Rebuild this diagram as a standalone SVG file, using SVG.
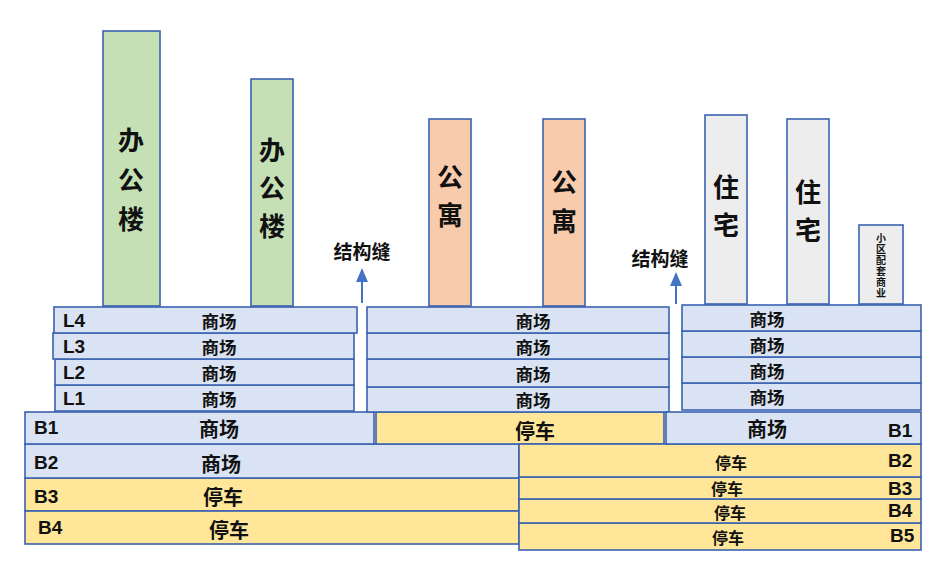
<svg xmlns="http://www.w3.org/2000/svg" width="946" height="584" viewBox="0 0 946 584">
<defs>
<style>
.b{fill:#dae3f3;stroke:#3a62b0;stroke-width:1.6}
.y{fill:#ffe699;stroke:#3a62b0;stroke-width:1.6}
.g{fill:#c5e0b4;stroke:#3a62b0;stroke-width:1.6}
.o{fill:#f8cbad;stroke:#3a62b0;stroke-width:1.6}
.w{fill:#ededed;stroke:#3a62b0;stroke-width:1.6}
text{font-family:"Noto Sans CJK SC","Liberation Sans",sans-serif;font-weight:700;fill:#111;dominant-baseline:central}
.c{font-size:20px;text-anchor:middle}
.m{font-size:17.5px;text-anchor:middle}
.p{font-size:16px;text-anchor:middle}
.l{font-family:"Liberation Sans","Noto Sans CJK SC",sans-serif;font-size:19px}
.t{font-size:26px;text-anchor:middle}
.s{font-size:10px;writing-mode:vertical-rl;letter-spacing:1px;text-anchor:start}
.j{font-size:19px;text-anchor:middle}
.arr{stroke:#4472c4;stroke-width:2;fill:none}
.ah{fill:#4472c4}
</style>
</defs>
<rect width="946" height="584" fill="#ffffff"/>

<g id="office1"><rect class="g" x="103" y="31" width="57" height="275"/><text class="t" x="131" y="138">办</text><text class="t" x="131" y="178">公</text><text class="t" x="131" y="217">楼</text></g>
<g id="office2"><rect class="g" x="251" y="79" width="42" height="227"/><text class="t" x="272" y="148">办</text><text class="t" x="272" y="186">公</text><text class="t" x="272" y="224">楼</text></g>
<g id="apt1"><rect class="o" x="429" y="119" width="42" height="187"/><text class="t" x="450" y="175">公</text><text class="t" x="450" y="213">寓</text></g>
<g id="apt2"><rect class="o" x="543" y="119" width="42" height="187"/><text class="t" x="564" y="180">公</text><text class="t" x="564" y="219">寓</text></g>
<g id="res1"><rect class="w" x="705" y="115" width="42" height="189"/><text class="t" x="726" y="185">住</text><text class="t" x="726" y="223">宅</text></g>
<g id="res2"><rect class="w" x="787" y="119" width="42" height="185"/><text class="t" x="808" y="190">住</text><text class="t" x="808" y="228">宅</text></g>
<g id="shop"><rect class="w" x="859" y="225" width="44" height="79"/>
<text class="s" x="881" y="233">小区配套商业</text></g>

<g id="left-podium">
<rect class="y" x="25" y="478" width="494" height="33"/>
<rect class="y" x="25" y="511" width="494" height="33"/>
<rect class="b" x="25" y="444" width="494" height="34"/>
<rect class="b" x="25" y="412" width="349" height="32"/>
<rect class="b" x="55" y="385" width="299" height="26"/>
<rect class="b" x="55" y="359" width="299" height="26"/>
<rect class="b" x="53" y="333" width="301" height="26"/>
<rect class="b" x="54" y="307" width="303" height="26"/>
<text class="l" x="63" y="320">L4</text><text class="m" x="219" y="320">商场</text>
<text class="l" x="63" y="346">L3</text><text class="m" x="219" y="346">商场</text>
<text class="l" x="63" y="372">L2</text><text class="m" x="219" y="372">商场</text>
<text class="l" x="63" y="398">L1</text><text class="m" x="219" y="398">商场</text>
<text class="l" x="34" y="427">B1</text><text class="c" x="219" y="428">商场</text>
<text class="l" x="34" y="462">B2</text><text class="c" x="221" y="463">商场</text>
<text class="l" x="34" y="496">B3</text><text class="c" x="223" y="496">停车</text>
<text class="l" x="38" y="527">B4</text><text class="c" x="229" y="529">停车</text>
</g>

<g id="mid-podium">
<rect class="y" x="376" y="412" width="288" height="32"/>
<rect class="b" x="367" y="387" width="302" height="25"/>
<rect class="b" x="367" y="359" width="302" height="28"/>
<rect class="b" x="367" y="333" width="302" height="26"/>
<rect class="b" x="367" y="307" width="302" height="26"/>
<text class="m" x="533" y="320">商场</text>
<text class="m" x="533" y="346">商场</text>
<text class="m" x="533" y="373">商场</text>
<text class="m" x="533" y="399">商场</text>
<text class="c" x="535" y="430">停车</text>
</g>

<g id="right-podium">
<rect class="y" x="519" y="523" width="402" height="27"/>
<rect class="y" x="519" y="499" width="402" height="24"/>
<rect class="y" x="519" y="477" width="402" height="22"/>
<rect class="y" x="519" y="444" width="402" height="33"/>
<rect class="b" x="666" y="412" width="255" height="32"/>
<rect class="b" x="682" y="383" width="239" height="27"/>
<rect class="b" x="682" y="357" width="239" height="26"/>
<rect class="b" x="682" y="331" width="239" height="26"/>
<rect class="b" x="682" y="305" width="239" height="26"/>
<text class="m" x="767" y="318">商场</text>
<text class="m" x="767" y="344">商场</text>
<text class="m" x="767" y="370">商场</text>
<text class="m" x="767" y="396">商场</text>
<text class="c" x="767" y="428">商场</text><text class="l" x="888" y="430">B1</text>
<text class="p" x="731" y="462">停车</text><text class="l" x="888" y="460">B2</text>
<text class="p" x="727" y="488">停车</text><text class="l" x="888" y="488">B3</text>
<text class="p" x="730" y="512">停车</text><text class="l" x="888" y="510">B4</text>
<text class="p" x="728" y="537">停车</text><text class="l" x="890" y="535">B5</text>
</g>

<g id="joint-left"><text class="j" x="362" y="250">结构缝</text></g>
<g id="joint-right"><text class="j" x="660" y="257">结构缝</text></g>
<g id="connectors">
<line class="arr" x1="362" y1="303" x2="362" y2="280"/>
<polygon class="ah" points="362,268 356,282 368,282"/>
<line class="arr" x1="676" y1="304" x2="676" y2="284"/>
<polygon class="ah" points="676,272 670,286 682,286"/>
</g>
</svg>
